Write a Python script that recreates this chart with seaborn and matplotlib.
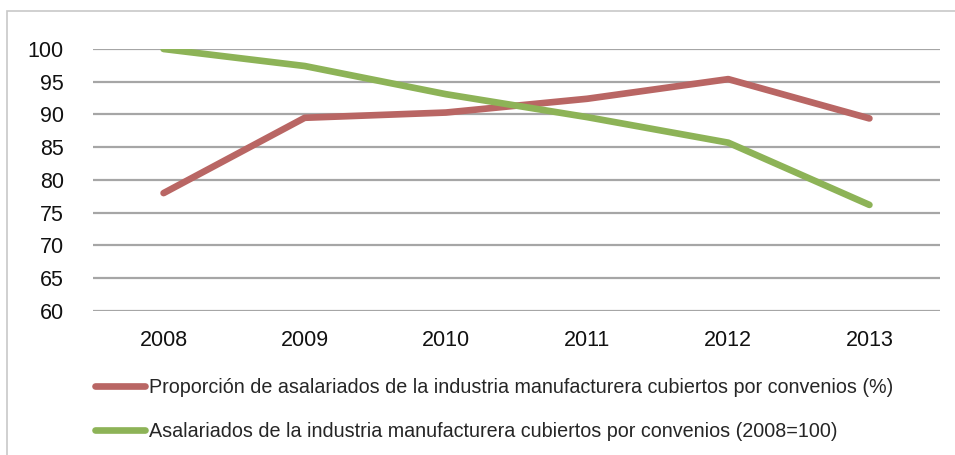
import matplotlib
matplotlib.use("Agg")
import matplotlib.pyplot as plt
from matplotlib.lines import Line2D
import pandas as pd
import seaborn as sns

years = ["2008", "2009", "2010", "2011", "2012", "2013"]
proporcion = [78.0, 89.5, 90.3, 92.4, 95.4, 89.4]
asalariados = [100.0, 97.4, 93.1, 89.6, 85.7, 76.2]
series_names = [
    "Proporción de asalariados de la industria manufacturera cubiertos por convenios (%)",
    "Asalariados de la industria manufacturera cubiertos por convenios (2008=100)",
]
y_ticks = [60, 65, 70, 75, 80, 85, 90, 95, 100]

colors = ["#B96664", "#8DB357"]

sns.set_theme(style="white")
plt.rcParams["font.family"] = ["Liberation Sans", "DejaVu Sans"]

df = pd.DataFrame({
    "year": years * 2,
    "value": proporcion + asalariados,
    "serie": [series_names[0]] * len(years) + [series_names[1]] * len(years),
})

fig = plt.figure(figsize=(9.55, 4.55), dpi=100)
ax = fig.add_axes([93 / 955, 1 - 311 / 455, 847 / 955, 262 / 455])

sns.lineplot(data=df, x="year", y="value", hue="serie", palette=colors,
             linewidth=4.8, ax=ax, legend=False, sort=False)
for ln in ax.lines:
    ln.set_solid_capstyle("round")
    ln.set_solid_joinstyle("round")
    ln.set_zorder(3)

ax.set_xlim(-0.5, len(years) - 0.5)
ax.set_ylim(60, 100)
ax.set_yticks(y_ticks)
ax.set_xlabel("")
ax.set_ylabel("")
for s in ax.spines.values():
    s.set_visible(False)
ax.grid(axis="y", color="#A6A6A6", linewidth=1.6)
ax.set_axisbelow(True)
ax.tick_params(axis="y", length=0, pad=21, labelsize=15.5, labelcolor="#111111")
ax.tick_params(axis="x", length=0, pad=14, labelsize=15.5, labelcolor="#111111")
for lbl in ax.get_ymajorticklabels() + ax.get_xmajorticklabels():
    lbl.set_clip_on(False)

# legend rows beneath the plot
handles = [Line2D([0], [0], color=c, linewidth=4.8, solid_capstyle="round") for c in colors]
fig.legend(handles, series_names, loc="upper left", bbox_to_anchor=(95 / 955, 1 - 378 / 455),
           frameon=False, fontsize=14.2, handlelength=2.55, handletextpad=0.2,
           labelspacing=1.28, borderaxespad=0, borderpad=0)

# thin outer frame of the chart area
frame = plt.Rectangle((7 / 955, -0.05), 1.2, 1 - 11 / 455 + 0.05, transform=fig.transFigure,
                      fill=False, edgecolor="#C8C8C8", linewidth=1.2)
fig.add_artist(frame)

# descender of the heading line that sits above the chart
fig.text(276 / 955, 1 + 3.5 / 455, "g", color="#2F75C8", fontsize=15, fontweight="bold",
         va="baseline", ha="left")

fig.savefig("out.png", dpi=100)
